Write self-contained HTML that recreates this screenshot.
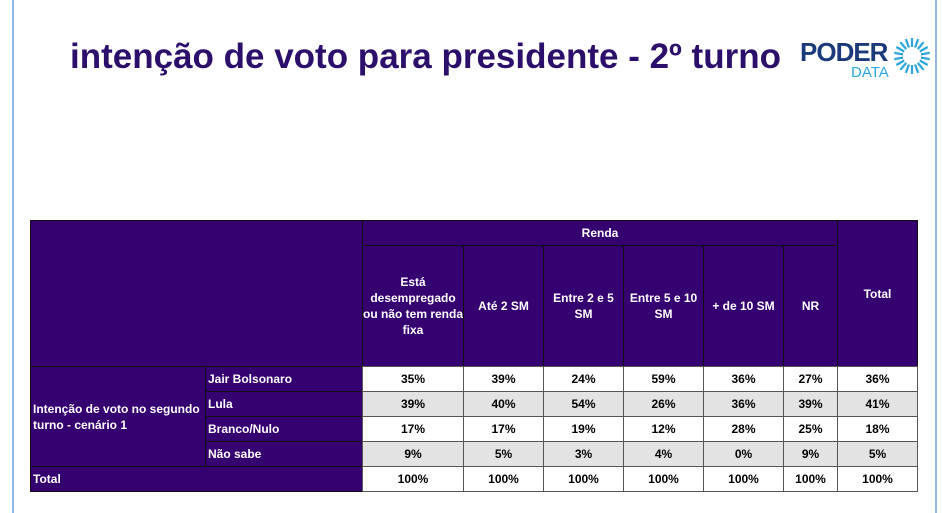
<!DOCTYPE html>
<html><head><meta charset="utf-8"><style>
body{margin:0;width:942px;height:513px;background:#fff;position:relative;overflow:hidden;font-family:"Liberation Sans",sans-serif}
.vl{position:absolute;top:0;width:2px;height:513px;background:#8fb8e8}
.title{position:absolute;left:70px;top:37px;font-size:35px;font-weight:bold;color:#2b0f6b;white-space:nowrap}
.c{position:absolute;box-sizing:border-box;font-size:12px;font-weight:bold;display:flex;align-items:center;justify-content:center;text-align:center;line-height:16px}
.p{background:#350070;color:#fff;border:1px solid #111}
.w{background:#fff;color:#000;border:1px solid #555}
.g{background:#e3e3e3;color:#000;border:1px solid #555}
.l{justify-content:flex-start;text-align:left;padding-left:2px}
</style></head><body>
<div class="vl" style="left:12px"></div>
<div class="vl" style="left:935px"></div>
<div class="title">intenção de voto para presidente - 2º turno</div>
<div style="position:absolute;left:800px;top:37px;font-size:26px;font-weight:bold;color:#1b3a7a;letter-spacing:-1px">PODER</div>
<div style="position:absolute;left:851px;top:64px;font-size:15px;color:#2aa5dd">DATA</div>
<svg style="position:absolute;left:893px;top:37px" width="38" height="38" viewBox="-19 -19 38 38">
<g stroke="#2aa5dd" stroke-width="2.2">
<line x1="0" y1="-9" x2="0" y2="-18" transform="rotate(0)"/><line x1="0" y1="-9" x2="0" y2="-18" transform="rotate(20)"/><line x1="0" y1="-9" x2="0" y2="-18" transform="rotate(40)"/><line x1="0" y1="-9" x2="0" y2="-18" transform="rotate(60)"/><line x1="0" y1="-9" x2="0" y2="-18" transform="rotate(80)"/><line x1="0" y1="-9" x2="0" y2="-18" transform="rotate(100)"/><line x1="0" y1="-9" x2="0" y2="-18" transform="rotate(120)"/><line x1="0" y1="-9" x2="0" y2="-18" transform="rotate(140)"/><line x1="0" y1="-9" x2="0" y2="-18" transform="rotate(160)"/><line x1="0" y1="-9" x2="0" y2="-18" transform="rotate(180)"/><line x1="0" y1="-9" x2="0" y2="-18" transform="rotate(200)"/><line x1="0" y1="-9" x2="0" y2="-18" transform="rotate(220)"/><line x1="0" y1="-9" x2="0" y2="-18" transform="rotate(240)"/><line x1="0" y1="-9" x2="0" y2="-18" transform="rotate(260)"/><line x1="0" y1="-9" x2="0" y2="-18" transform="rotate(280)"/><line x1="0" y1="-9" x2="0" y2="-18" transform="rotate(300)"/><line x1="0" y1="-9" x2="0" y2="-18" transform="rotate(320)"/><line x1="0" y1="-9" x2="0" y2="-18" transform="rotate(340)"/>
</g></svg>

<div class="c p" style="left:30px;top:220px;width:333px;height:147px"></div>
<div class="c p" style="left:362px;top:220px;width:476px;height:26px">Renda</div>
<div class="c p" style="left:837px;top:220px;width:81px;height:147px">Total</div>
<div class="c p" style="left:362px;top:245px;width:102px;height:122px">Está<br>desempregado<br>ou não tem renda<br>fixa</div>
<div class="c p" style="left:463px;top:245px;width:81px;height:122px">Até 2 SM</div>
<div class="c p" style="left:543px;top:245px;width:81px;height:122px">Entre 2 e 5<br>SM</div>
<div class="c p" style="left:623px;top:245px;width:81px;height:122px">Entre 5 e 10<br>SM</div>
<div class="c p" style="left:703px;top:245px;width:81px;height:122px">+ de 10 SM</div>
<div class="c p" style="left:783px;top:245px;width:55px;height:122px">NR</div>

<div class="c p l" style="left:30px;top:366px;width:176px;height:101px">Intenção de voto no segundo<br>turno - cenário 1</div>
<div class="c p l" style="left:205px;top:366px;width:158px;height:26px">Jair Bolsonaro</div>
<div class="c p l" style="left:205px;top:391px;width:158px;height:26px">Lula</div>
<div class="c p l" style="left:205px;top:416px;width:158px;height:26px">Branco/Nulo</div>
<div class="c p l" style="left:205px;top:441px;width:158px;height:26px">Não sabe</div>
<div class="c p l" style="left:30px;top:466px;width:333px;height:26px">Total</div>

<div id="d"></div>
<script>
var xs=[[362,102],[463,81],[543,81],[623,81],[703,81],[783,55],[837,81]];
var rows=[["35%","39%","24%","59%","36%","27%","36%"],["39%","40%","54%","26%","36%","39%","41%"],["17%","17%","19%","12%","28%","25%","18%"],["9%","5%","3%","4%","0%","9%","5%"],["100%","100%","100%","100%","100%","100%","100%"]];
var h="";
rows.forEach(function(r,i){var cls=(i%2)?"g":"w";r.forEach(function(v,j){h+='<div class="c '+cls+'" style="left:'+xs[j][0]+'px;top:'+(366+25*i)+'px;width:'+xs[j][1]+'px;height:26px">'+v+'</div>';});});
document.getElementById("d").innerHTML=h;
</script>
</body></html>
